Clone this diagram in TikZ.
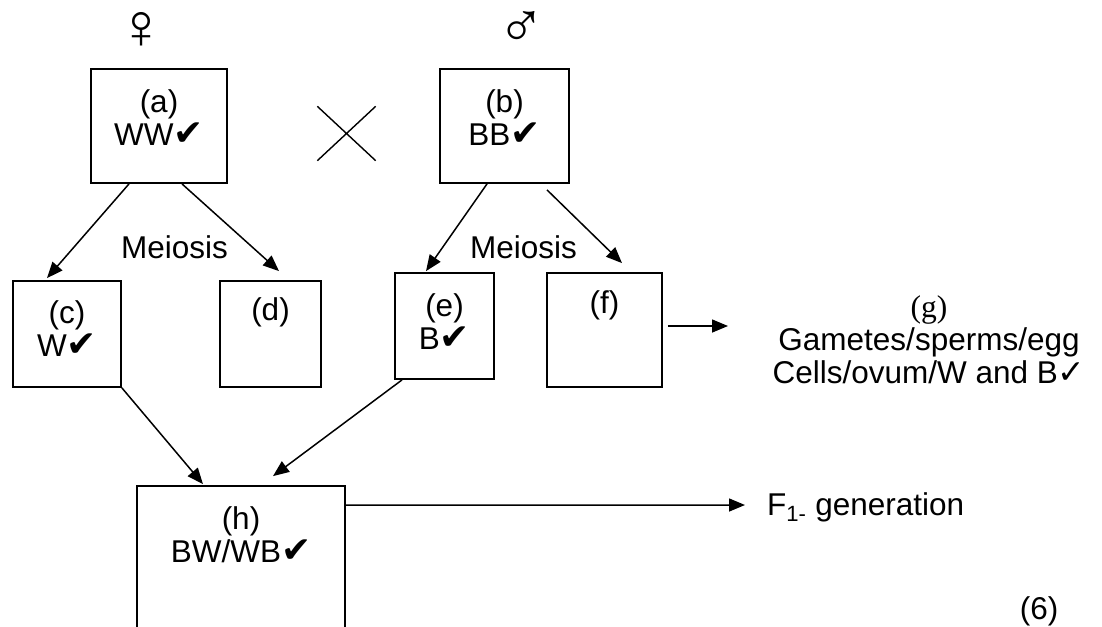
\documentclass[tikz,border=0pt]{standalone}
\usepackage{fontspec}
\setmainfont{Liberation Sans}
\newfontfamily\djv{DejaVu Sans}
\newfontfamily\tms{Liberation Serif}
\usetikzlibrary{arrows.meta,shapes.misc}
\newcommand{\ck}{{\djv\fontsize{36}{33}\selectfont ✔}}
\newcommand{\cklight}{{\djv\fontsize{33}{33}\selectfont ✓}}
\begin{document}
\begin{tikzpicture}[x=1pt,y=-1pt,
 box/.style={draw,line width=1.8pt,inner sep=0pt},
 txt/.style={inner sep=0pt,align=center,font=\fontsize{31.5}{33}\selectfont},
 sym/.style={inner sep=0pt,font=\fontsize{64}{64}\selectfont},
 arr/.style={line width=1.5pt,-{Triangle[length=16pt,width=13pt]}}]
\useasboundingbox (0,0) rectangle (1102,626);
\clip (0,0) rectangle (1102,626);
% boxes
\node[box,minimum width=136,minimum height=114] (a) at (159,126) {};
\node[box,minimum width=129,minimum height=114] (b) at (504.5,126) {};
\node[box,minimum width=108,minimum height=106] (c) at (67,334) {};
\node[box,minimum width=101,minimum height=106] (d) at (270.5,334) {};
\node[box,minimum width=99,minimum height=106] (e) at (444.5,326) {};
\node[box,minimum width=115,minimum height=114] (f) at (604.5,330) {};
\node[box,minimum width=208,minimum height=214] (h) at (241,593) {};
% cross
\node[draw,cross out,line width=1.4pt,minimum width=57,minimum height=53,inner sep=0pt] (x) at (346.5,133.5) {};
% symbols
\node[sym] (fem) at (141,30) {♀};
\node[sym] (male) at (521,29) {♂};
% texts
\node[txt] (ta) at (159,118) {(a)\\WW\ck};
\node[txt] (tb) at (504.5,118) {(b)\\BB\ck};
\node[txt] (tc) at (67,328.5) {(c)\\W\ck};
\node[txt] (td) at (270.5,312) {(d)};
\node[txt] (te) at (444.5,322) {(e)\\B\ck};
\node[txt] (tf) at (604.5,305) {(f)};
\node[txt] (th) at (241,535) {(h)\\BW/WB\ck};
\node[txt] (g) at (929,340) {{\tms (g)}\\Gametes/sperms/egg\\Cells/ovum/W and B\cklight};
\node[txt,anchor=west] (F1) at (767,507) {F\textsubscript{1-} generation};
\node[txt] (six) at (1039,611) {(6)};
\node[txt] (mL) at (174.5,247) {Meiosis};
\node[txt] (mR) at (523.5,247) {Meiosis};
% arrows
\draw[arr] ([shift={(-30,0)}]a.south) -- ([shift={(-20,-2)}]c.north);
\draw[arr] ([shift={(23,0)}]a.south) -- ([shift={(8.5,-9)}]d.north);
\draw[arr] ([shift={(-17.5,0)}]b.south) -- ([shift={(-18.5,-1)}]e.north);
\draw[arr] ([shift={(42.5,6)}]b.south) -- ([shift={(17.5,-9)}]f.north);
\draw[arr] (c.south east) -- ([shift={(-38,-1)}]h.north);
\draw[arr] ([shift={(-42.5,0)}]e.south) -- ([shift={(32,-9)}]h.north);
\coordinate (gtip) at (728,326);
\draw[arr] ([shift={(5,-4)}]f.east) -- (gtip);
\draw[arr] ([shift={(0,20)}]h.north east) -- ([shift={(-22,-2)}]F1.west);
\end{tikzpicture}
\end{document}
